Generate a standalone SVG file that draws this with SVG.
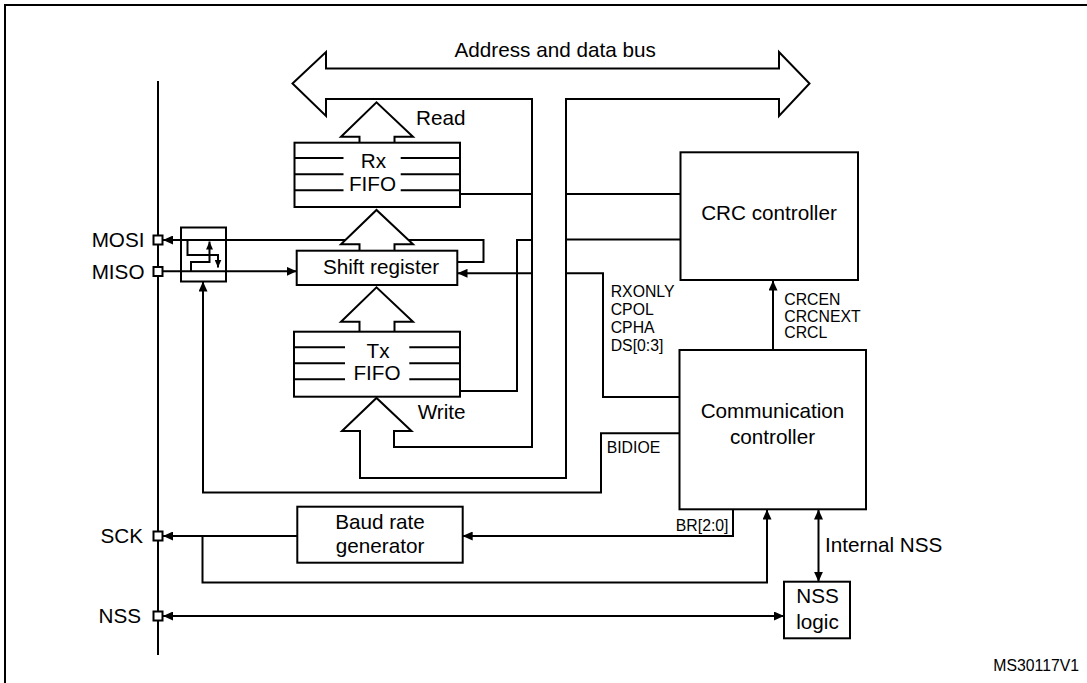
<svg xmlns="http://www.w3.org/2000/svg" width="1087" height="683" viewBox="0 0 1087 683">
<style>
.ln{fill:none;stroke:#000;stroke-width:2}
.bx{fill:#fff;stroke:#000;stroke-width:2}
.ha{fill:#fff;stroke:#000;stroke-width:2;stroke-linejoin:miter}
.t{font-family:"Liberation Sans",Arial,sans-serif;font-size:20.7px;fill:#000}
.s{font-family:"Liberation Sans",Arial,sans-serif;font-size:15.8px;fill:#000}
.m{text-anchor:middle}
.e{text-anchor:end}
</style>
<defs>
<marker id="ar" viewBox="0 0 10 9" refX="10" refY="4.5" markerWidth="10" markerHeight="9" markerUnits="userSpaceOnUse" orient="auto-start-reverse">
<path d="M0,0 L10,4.5 L0,9 z" fill="#000"/>
</marker>
<marker id="as" viewBox="0 0 8 7" refX="8" refY="3.5" markerWidth="8" markerHeight="7" markerUnits="userSpaceOnUse" orient="auto">
<path d="M0,0 L8,3.5 L0,7 z" fill="#000"/>
</marker>
</defs>
<rect width="1087" height="683" fill="#fff"/>
<path class="ln" d="M5,683 V5 H1087"/>

<g id="bus">
<path class="ha" d="M292.5,83.5 L326,52 V68.5 H779 V52 L809.5,83.5 L779,116 V99 H566 V478 H360 V431 H342 L376.5,398 L411.5,431 H394 V447 H532 V99 H326 V116 Z"/>
<text class="t" x="454.5" y="56.7">Address and data bus</text>
<text class="t" x="416" y="125">Read</text>
<text class="t" x="417.7" y="419">Write</text>
</g>

<g id="connectors">
<line class="ln" x1="158" y1="81" x2="158" y2="655"/>
<polyline class="ln" points="457,262 483.5,262 483.5,240 163,240" marker-end="url(#ar)"/>
<line class="ln" x1="162" y1="271.3" x2="296.7" y2="271.3" marker-end="url(#ar)"/>
<line class="ln" x1="460" y1="194" x2="532" y2="194"/>
<polyline class="ln" points="460,391 517,391 517,240 532,240"/>
<line class="ln" x1="532" y1="273.3" x2="457.5" y2="273.3" marker-end="url(#ar)"/>
<line class="ln" x1="566" y1="194" x2="680.5" y2="194"/>
<line class="ln" x1="566" y1="239.5" x2="680.5" y2="239.5"/>
<polyline class="ln" points="566,273.3 603,273.3 603,397 679.5,397"/>
<polyline class="ln" points="679.5,433.3 601,433.3 601,492.5 203,492.5 203,281.5" marker-end="url(#ar)"/>
<line class="ln" x1="773" y1="350" x2="773" y2="280.5" marker-end="url(#ar)"/>
<polyline class="ln" points="733,509.3 733,536 462.7,536" marker-end="url(#ar)"/>
<line class="ln" x1="297.3" y1="536" x2="163" y2="536" marker-end="url(#ar)"/>
<polyline class="ln" points="202.5,536 202.5,582.5 767,582.5 767,509.5" marker-end="url(#ar)"/>
<line class="ln" x1="163" y1="616" x2="784" y2="616" marker-start="url(#ar)" marker-end="url(#ar)"/>
<line class="ln" x1="818.5" y1="509.5" x2="818.5" y2="581.7" marker-start="url(#ar)" marker-end="url(#ar)"/>
<text class="s" x="610.7" y="296.7">RXONLY</text>
<text class="s" x="610.7" y="314.8">CPOL</text>
<text class="s" x="610.7" y="332.7">CPHA</text>
<text class="s" x="610.7" y="350.7">DS[0:3]</text>
<text class="s" x="784.3" y="305">CRCEN</text>
<text class="s" x="784.3" y="321.7">CRCNEXT</text>
<text class="s" x="784.3" y="338.3">CRCL</text>
<text class="s" x="606.7" y="452.7">BIDIOE</text>
<text class="s e" x="728.5" y="530.7">BR[2:0]</text>
<text class="t" x="825" y="551.7">Internal NSS</text>
</g>

<g id="pins">
<rect class="bx" x="153.5" y="235.5" width="9" height="9"/>
<rect class="bx" x="153.5" y="267" width="9" height="9"/>
<rect class="bx" x="153.5" y="531.5" width="9" height="9"/>
<rect class="bx" x="153.5" y="611.5" width="9" height="9"/>
<text class="t e" x="144.5" y="247.3">MOSI</text>
<text class="t e" x="144.5" y="279.2">MISO</text>
<text class="t e" x="143" y="543.3">SCK</text>
<text class="t e" x="141" y="622.5">NSS</text>
</g>

<g id="switch">
<rect class="ln" x="181" y="227.5" width="45" height="54"/>
<polyline class="ln" points="187.5,240.5 187.5,255 218,255 218,267.5" marker-end="url(#as)"/>
<polyline class="ln" points="191,271.3 191,262 209.5,262 209.5,241.5" marker-end="url(#as)"/>
</g>

<g id="arrows">
<polyline class="ha" points="359.5,142.7 359.5,136.7 341,136.7 376.5,102.3 413,136.7 394.5,136.7 394.5,142.7"/>
<polyline class="ha" points="359.5,250.7 359.5,244.3 341,244.3 376.5,210 413,244.3 394.5,244.3 394.5,250.7"/>
<polyline class="ha" points="359.5,331.7 359.5,321.7 341,321.7 376.5,287.3 413,321.7 394.5,321.7 394.5,331.7"/>
</g>

<g id="rxfifo">
<rect class="bx" x="294.5" y="142.7" width="165.5" height="64.3"/>
<path class="ln" d="M294.5,158 H343.5 M294.5,174.3 H343.5 M294.5,190.3 H343.5 M400.7,158 H460 M400.7,174.3 H460 M400.7,190.3 H460"/>
<text class="t m" x="373.5" y="168.3">Rx</text>
<text class="t m" x="372.5" y="190.7">FIFO</text>
</g>

<g id="shiftreg">
<rect class="bx" x="296.7" y="250.7" width="160.6" height="34.3"/>
<text class="t m" x="381" y="274.2">Shift register</text>
</g>

<g id="txfifo">
<rect class="bx" x="294" y="331.7" width="166" height="65"/>
<path class="ln" d="M294,347.3 H345 M294,363.3 H345 M294,379.3 H345 M409.3,347.3 H460 M409.3,363.3 H460 M409.3,379.3 H460"/>
<text class="t m" x="378" y="357.5">Tx</text>
<text class="t m" x="377" y="380.2">FIFO</text>
</g>

<g id="crc">
<rect class="bx" x="680.5" y="152.3" width="177.5" height="127.7"/>
<text class="t m" x="769" y="220">CRC controller</text>
</g>

<g id="comm">
<rect class="bx" x="679.5" y="350" width="186.5" height="159.3"/>
<text class="t m" x="772.5" y="418.3">Communication</text>
<text class="t m" x="772.5" y="444">controller</text>
</g>

<g id="baud">
<rect class="bx" x="297.3" y="506.7" width="165.4" height="56"/>
<text class="t m" x="380" y="529">Baud rate</text>
<text class="t m" x="380" y="553.3">generator</text>
</g>

<g id="nsslogic">
<rect class="bx" x="784" y="581.7" width="66" height="56.6"/>
<text class="t m" x="817.5" y="603.3">NSS</text>
<text class="t m" x="817.5" y="629.3">logic</text>
</g>

<text class="s" x="993.3" y="670.7">MS30117V1</text>
</svg>
